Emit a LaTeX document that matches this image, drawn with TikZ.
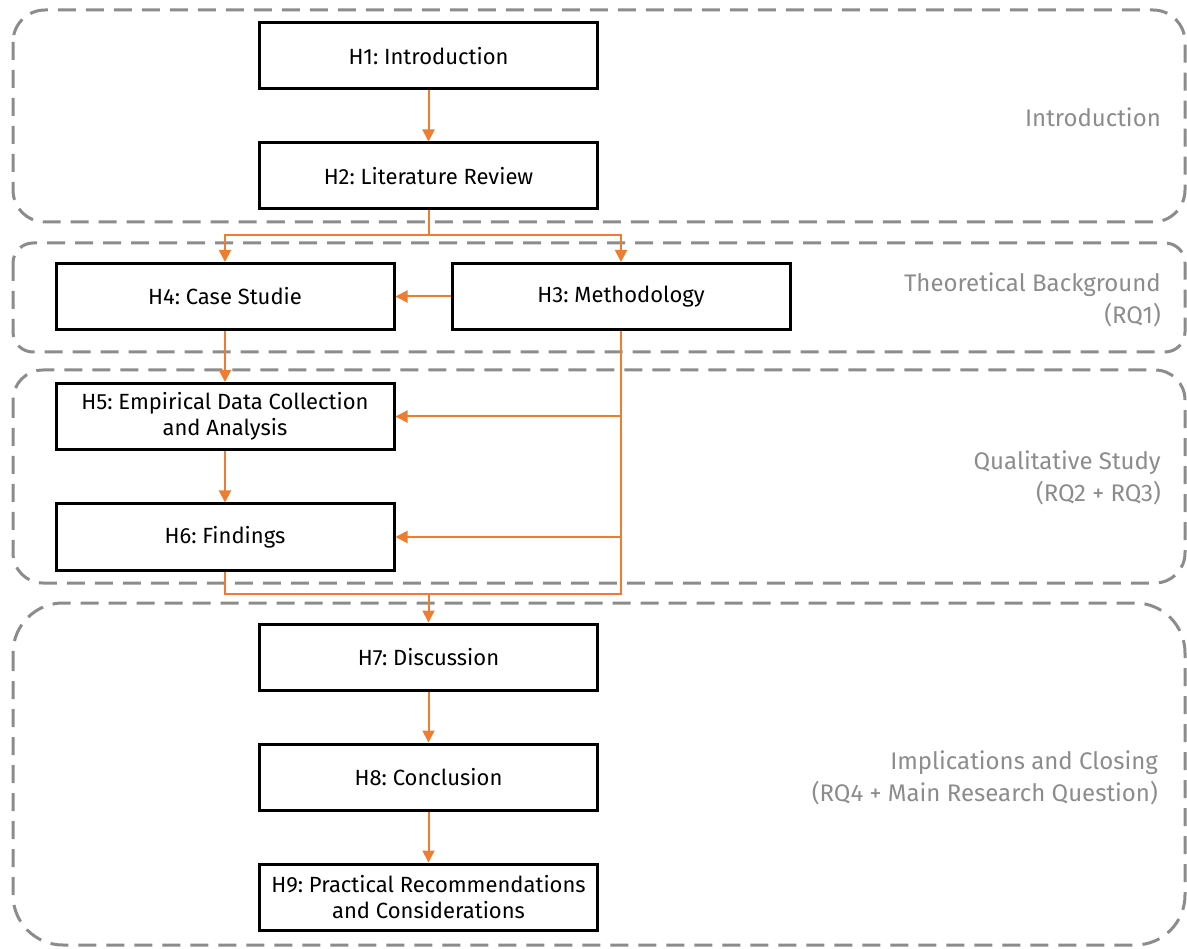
\documentclass[tikz,border=0pt]{standalone}
\usepackage{fontspec}
\setmainfont{Fira Sans}
\usetikzlibrary{arrows.meta}
\definecolor{accent}{HTML}{ED7D31}
\definecolor{zonegray}{HTML}{8C8C8C}
\frenchspacing
\begin{document}
\begin{tikzpicture}[x=1pt,y=-1pt,
  chapter/.style={draw=black,line width=3pt,minimum width=338pt,minimum height=66pt,
    align=center,inner sep=0pt,font=\fontsize{22}{26}\selectfont},
  zone/.style={draw=zonegray,line width=3pt,dash pattern=on 18pt off 10pt},
  zonelabel/.style={text=zonegray,align=right,anchor=east,inner sep=0pt,
    font=\fontsize{24}{31.5}\selectfont},
  link/.style={draw=accent,line width=2pt},
  flow/.style={link,-{Triangle[length=12pt,width=12pt]}}]
\useasboundingbox (0,0) rectangle (1187,949);

% dashed zones
\draw[zone,rounded corners=32pt] (13,10) rectangle (1185,222);
\draw[zone,rounded corners=20pt] (13,243) rectangle (1185,352);
\draw[zone,rounded corners=30pt] (13,370) rectangle (1185,583);
\draw[zone,rounded corners=50pt] (13,603) rectangle (1185,945);

% zone labels
\node[zonelabel] (lintro) at (1161,117) {Introduction};
\node[zonelabel] (ltheory) at (1161,300) {Theoretical Background\\(RQ1)};
\node[zonelabel] (lqual) at (1161,478) {Qualitative Study\\(RQ2 + RQ3)};
\node[zonelabel] (limpl) at (1158,778) {Implications and Closing\\(RQ4 + Main Research Question)};

% chapters
\node[chapter] (h1) at (428.5,56) {H1: Introduction};
\node[chapter] (h2) at (428.5,176) {H2: Literature Review};
\node[chapter] (h4) at (225,296.5) {H4: Case Studie};
\node[chapter] (h3) at (621,296.5) {H3: Methodology};
\node[chapter] (h5) at (225,416.5) {H5: Empirical Data Collection\\and Analysis};
\node[chapter] (h6) at (225,537) {H6: Findings};
\node[chapter] (h7) at (428.5,657) {H7: Discussion};
\node[chapter] (h8) at (428.5,777) {H8: Conclusion};
\node[chapter] (h9) at (428.5,897) {H9: Practical Recommendations\\and Considerations};

% junction points
\coordinate (split) at (428.5,235);
\coordinate (merge) at (428.5,594);

% connectors
\draw[flow] (h1) -- (h2);
\draw[link] (h2.south) -- (split);
\draw[flow] (split) -| (h4.north);
\draw[flow] (split) -| (h3.north);
\draw[flow] (h3.west) -- (h4.east);
\draw[flow] (h4.south) -- (h5.north);
\draw[flow] (h5.south) -- (h6.north);
\draw[link] (h6.south) -- (h6.south |- merge) -- (h3.south |- merge) -- (h3.south);
\draw[flow] (h3.south |- h5.east) -- (h5.east);
\draw[flow] (h3.south |- h6.east) -- (h6.east);
\draw[flow] (merge) -- (h7.north);
\draw[flow] (h7) -- (h8);
\draw[flow] (h8) -- (h9);
\end{tikzpicture}
\end{document}
